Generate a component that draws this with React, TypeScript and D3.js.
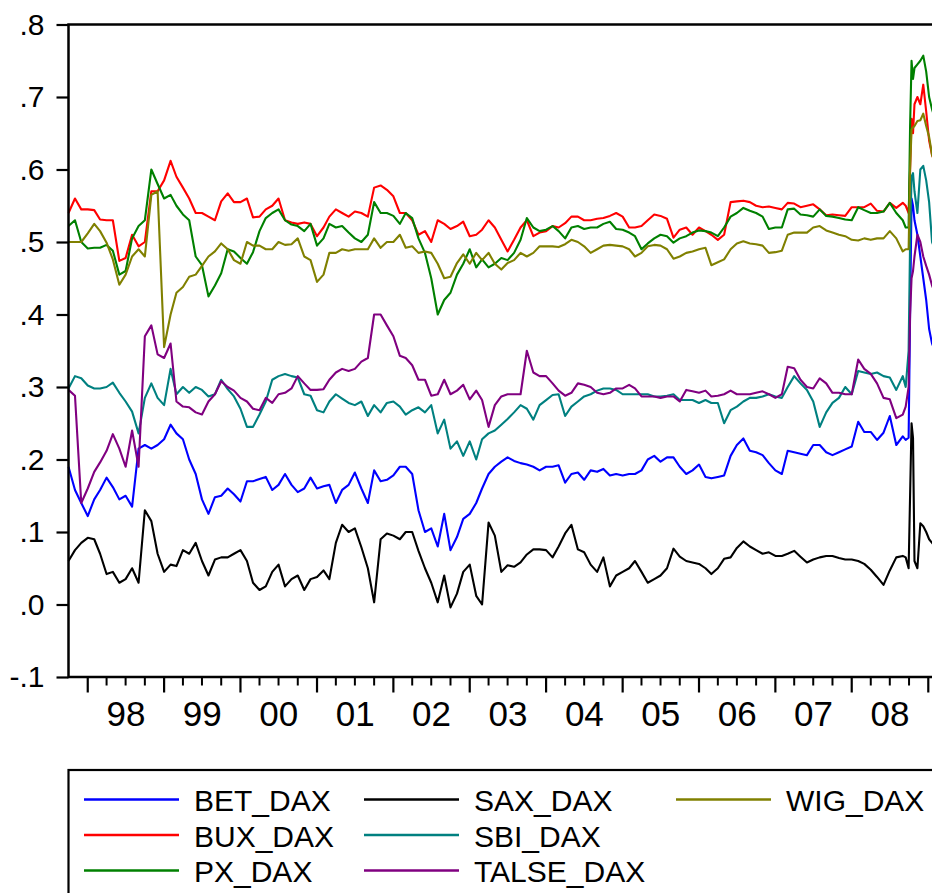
import * as React from "react";
import * as d3 from "d3";

const parseDay = d3.timeParse("%Y-%m-%d");

// monthly readings Oct 1997 .. Sep 2008, then the autumn 2008 turmoil in finer steps
const monthDates = d3.timeMonth.range(new Date(1997, 9, 1), new Date(2008, 9, 1));
const tailDays = [
  "2008-09-15", "2008-09-29", "2008-10-06", "2008-10-13", "2008-10-20", "2008-10-27",
  "2008-11-10", "2008-11-24", "2008-12-08", "2008-12-22", "2009-01-05", "2009-01-19", "2009-02-02",
];
const dates = monthDates.concat(tailDays.map((s) => parseDay(s) as Date));

const yTicks = [0.8, 0.7, 0.6, 0.5, 0.4, 0.3, 0.2, 0.1, 0.0, -0.1];
const yearLabels = ["98", "99", "00", "01", "02", "03", "04", "05", "06", "07", "08"];

const BET_DAX = [
  0.19, 0.158, 0.14, 0.122, 0.145, 0.158, 0.175, 0.162, 0.145, 0.15,
  0.135, 0.215, 0.22, 0.215, 0.22, 0.228, 0.248, 0.236, 0.228, 0.20,
  0.18, 0.145, 0.125, 0.148, 0.15, 0.16, 0.152, 0.142, 0.17, 0.17,
  0.173, 0.176, 0.158, 0.165, 0.18, 0.165, 0.155, 0.16, 0.175, 0.16,
  0.163, 0.165, 0.14, 0.158, 0.165, 0.182, 0.16, 0.14, 0.185, 0.17,
  0.172, 0.178, 0.19, 0.19, 0.18, 0.13, 0.10, 0.105, 0.08, 0.125,
  0.075, 0.093, 0.118, 0.125, 0.14, 0.16, 0.18, 0.19, 0.197, 0.203,
  0.198, 0.195, 0.193, 0.19, 0.185, 0.19, 0.19, 0.192, 0.168, 0.18,
  0.182, 0.172, 0.185, 0.183, 0.187, 0.178, 0.18, 0.178, 0.18, 0.18,
  0.185, 0.20, 0.205, 0.197, 0.203, 0.203, 0.19, 0.18, 0.185, 0.193,
  0.176, 0.174, 0.176, 0.178, 0.205, 0.22, 0.229, 0.212, 0.21, 0.206,
  0.195, 0.185, 0.18, 0.212, 0.21, 0.208, 0.206, 0.22, 0.22, 0.21,
  0.206, 0.21, 0.214, 0.218, 0.252, 0.238, 0.238, 0.227, 0.237, 0.26,
  0.22, 0.232,
  0.227, 0.23, 0.40, 0.56, 0.55, 0.53, 0.51, 0.48, 0.45, 0.42, 0.38, 0.36, 0.35,
];

const BUX_DAX = [
  0.54, 0.56, 0.545, 0.545, 0.544, 0.531, 0.53, 0.53, 0.474, 0.478,
  0.51, 0.494, 0.50, 0.57, 0.57, 0.585, 0.612, 0.59, 0.575, 0.56,
  0.54, 0.54, 0.535, 0.53, 0.556, 0.567, 0.555, 0.555, 0.56, 0.534,
  0.535, 0.545, 0.55, 0.56, 0.53, 0.527, 0.525, 0.527, 0.525, 0.508,
  0.52, 0.535, 0.545, 0.54, 0.535, 0.542, 0.54, 0.535, 0.575, 0.578,
  0.572, 0.563, 0.54, 0.54, 0.53, 0.51, 0.515, 0.50, 0.53, 0.525,
  0.518, 0.522, 0.528, 0.508, 0.51, 0.517, 0.53, 0.52, 0.503, 0.487,
  0.503, 0.52, 0.53, 0.508, 0.513, 0.515, 0.522, 0.52, 0.526, 0.535,
  0.535, 0.53, 0.53, 0.532, 0.533, 0.536, 0.54, 0.535, 0.52, 0.52,
  0.522, 0.53, 0.538, 0.536, 0.532, 0.506, 0.517, 0.52, 0.51, 0.52,
  0.515, 0.51, 0.503, 0.51, 0.555, 0.556, 0.557, 0.555, 0.55, 0.548,
  0.549, 0.547, 0.545, 0.554, 0.553, 0.548, 0.55, 0.552, 0.545, 0.537,
  0.538, 0.537, 0.536, 0.548, 0.548, 0.548, 0.553, 0.543, 0.542, 0.554,
  0.547, 0.554,
  0.55, 0.54, 0.60, 0.67, 0.65, 0.69, 0.70, 0.69, 0.717, 0.68, 0.64, 0.62, 0.61,
];

const PX_DAX = [
  0.522, 0.53, 0.50, 0.491, 0.492, 0.492, 0.496, 0.488, 0.455, 0.46,
  0.505, 0.522, 0.53, 0.60, 0.58, 0.56, 0.565, 0.55, 0.538, 0.53,
  0.48, 0.468, 0.425, 0.44, 0.457, 0.49, 0.487, 0.478, 0.47, 0.486,
  0.515, 0.533, 0.54, 0.545, 0.53, 0.524, 0.522, 0.515, 0.525, 0.495,
  0.505, 0.525, 0.52, 0.522, 0.513, 0.505, 0.50, 0.51, 0.555, 0.54,
  0.54, 0.536, 0.525, 0.54, 0.533, 0.505, 0.485, 0.45, 0.40, 0.42,
  0.43, 0.455, 0.47, 0.49, 0.465, 0.476, 0.465, 0.47, 0.478, 0.475,
  0.485, 0.503, 0.533, 0.52, 0.515, 0.517, 0.522, 0.515, 0.505, 0.52,
  0.522, 0.518, 0.52, 0.52, 0.525, 0.528, 0.518, 0.517, 0.513, 0.508,
  0.49, 0.498, 0.505, 0.51, 0.508, 0.499, 0.505, 0.508, 0.513, 0.516,
  0.515, 0.513, 0.508, 0.52, 0.535, 0.54, 0.547, 0.543, 0.54, 0.535,
  0.518, 0.52, 0.52, 0.545, 0.546, 0.538, 0.537, 0.535, 0.545, 0.536,
  0.535, 0.533, 0.531, 0.53, 0.548, 0.544, 0.54, 0.54, 0.542, 0.554,
  0.54, 0.53,
  0.52, 0.52, 0.66, 0.75, 0.725, 0.74, 0.745, 0.75, 0.757, 0.735, 0.70, 0.683, 0.67,
];

const SAX_DAX = [
  0.06, 0.075, 0.085, 0.092, 0.09, 0.07, 0.042, 0.045, 0.03, 0.035,
  0.05, 0.03, 0.13, 0.115, 0.07, 0.045, 0.055, 0.053, 0.075, 0.07,
  0.085, 0.06, 0.04, 0.062, 0.065, 0.065, 0.07, 0.075, 0.06, 0.03,
  0.02, 0.025, 0.045, 0.055, 0.025, 0.035, 0.04, 0.02, 0.035, 0.038,
  0.047, 0.035, 0.085, 0.11, 0.10, 0.105, 0.079, 0.05, 0.003, 0.09,
  0.098, 0.095, 0.09, 0.10, 0.10, 0.074, 0.05, 0.03, 0.003, 0.04,
  -0.004, 0.015, 0.045, 0.055, 0.012, 0.0, 0.113, 0.095, 0.045, 0.054,
  0.052, 0.058, 0.069, 0.076, 0.076, 0.075, 0.065, 0.08, 0.098, 0.11,
  0.076, 0.072, 0.055, 0.045, 0.065, 0.025, 0.04, 0.045, 0.05, 0.06,
  0.045, 0.03, 0.035, 0.04, 0.05, 0.077, 0.066, 0.06, 0.058, 0.056,
  0.05, 0.042, 0.05, 0.063, 0.065, 0.078, 0.087, 0.08, 0.075, 0.07,
  0.072, 0.067, 0.067, 0.07, 0.074, 0.066, 0.058, 0.062, 0.065, 0.067,
  0.067, 0.064, 0.062, 0.062, 0.06, 0.056, 0.048, 0.038, 0.027, 0.047,
  0.065, 0.067,
  0.065, 0.05, 0.15, 0.25, 0.23, 0.06, 0.05, 0.112, 0.108, 0.10, 0.09, 0.085, 0.08,
];

const SBI_DAX = [
  0.298, 0.315, 0.312, 0.302, 0.298, 0.298, 0.30, 0.306, 0.292, 0.28,
  0.266, 0.236, 0.285, 0.305, 0.285, 0.275, 0.325, 0.29, 0.30, 0.292,
  0.30, 0.296, 0.287, 0.29, 0.31, 0.297, 0.287, 0.27, 0.245, 0.245,
  0.262, 0.28, 0.31, 0.315, 0.318, 0.315, 0.313, 0.29, 0.288, 0.268,
  0.265, 0.28, 0.29, 0.284, 0.278, 0.275, 0.28, 0.26, 0.275, 0.265,
  0.278, 0.28, 0.273, 0.262, 0.268, 0.272, 0.265, 0.275, 0.236, 0.255,
  0.215, 0.225, 0.205, 0.225, 0.20, 0.228, 0.236, 0.24, 0.248, 0.256,
  0.265, 0.275, 0.27, 0.255, 0.275, 0.282, 0.289, 0.29, 0.26, 0.273,
  0.28, 0.287, 0.29, 0.295, 0.298, 0.298, 0.296, 0.29, 0.29, 0.29,
  0.29, 0.29, 0.287, 0.287, 0.288, 0.29, 0.282, 0.282, 0.282, 0.278,
  0.282, 0.278, 0.278, 0.25, 0.268, 0.273, 0.28, 0.285, 0.285, 0.287,
  0.29, 0.287, 0.285, 0.30, 0.315, 0.305, 0.296, 0.28, 0.245, 0.265,
  0.278, 0.285, 0.30, 0.29, 0.322, 0.32, 0.318, 0.32, 0.315, 0.313,
  0.296, 0.315,
  0.30, 0.35, 0.50, 0.59, 0.595, 0.57, 0.54, 0.60, 0.605, 0.585, 0.555, 0.50, 0.49,
];

const TALSE_DAX = [
  0.296, 0.288, 0.14, 0.16, 0.183, 0.196, 0.212, 0.235, 0.215, 0.19,
  0.24, 0.19, 0.37, 0.385, 0.345, 0.34, 0.36, 0.28, 0.273, 0.272,
  0.265, 0.262, 0.28, 0.29, 0.308, 0.30, 0.295, 0.285, 0.28, 0.27,
  0.268, 0.285, 0.278, 0.29, 0.292, 0.298, 0.315, 0.305, 0.296, 0.296,
  0.297, 0.31, 0.32, 0.325, 0.322, 0.325, 0.335, 0.34, 0.40, 0.40,
  0.385, 0.37, 0.343, 0.34, 0.33, 0.31, 0.31, 0.288, 0.29, 0.31,
  0.29, 0.295, 0.303, 0.283, 0.295, 0.282, 0.245, 0.275, 0.287, 0.29,
  0.29, 0.29, 0.35, 0.32, 0.315, 0.315, 0.305, 0.295, 0.288, 0.292,
  0.305, 0.303, 0.30, 0.292, 0.29, 0.292, 0.298, 0.298, 0.303, 0.298,
  0.287, 0.287, 0.287, 0.285, 0.287, 0.287, 0.28, 0.296, 0.294, 0.292,
  0.295, 0.287, 0.288, 0.29, 0.295, 0.29, 0.29, 0.29, 0.292, 0.294,
  0.29, 0.285, 0.29, 0.328, 0.326, 0.31, 0.30, 0.298, 0.312, 0.305,
  0.292, 0.292, 0.29, 0.29, 0.338, 0.325, 0.318, 0.305, 0.285, 0.283,
  0.257, 0.262,
  0.273, 0.30, 0.40, 0.45, 0.46, 0.48, 0.51, 0.50, 0.48, 0.467, 0.455, 0.44, 0.43,
];

const WIG_DAX = [
  0.50, 0.50, 0.50, 0.512, 0.525, 0.515, 0.499, 0.476, 0.441, 0.455,
  0.48, 0.49, 0.48, 0.565, 0.57, 0.355, 0.40, 0.43, 0.438, 0.452,
  0.455, 0.467, 0.48, 0.487, 0.498, 0.49, 0.475, 0.47, 0.50, 0.495,
  0.495, 0.49, 0.49, 0.50, 0.496, 0.497, 0.505, 0.48, 0.475, 0.445,
  0.455, 0.485, 0.485, 0.49, 0.488, 0.49, 0.49, 0.49, 0.505, 0.492,
  0.50, 0.50, 0.51, 0.492, 0.494, 0.485, 0.487, 0.485, 0.47, 0.45,
  0.452, 0.471, 0.483, 0.47, 0.485, 0.475, 0.485, 0.47, 0.462, 0.471,
  0.475, 0.485, 0.48, 0.485, 0.494, 0.494, 0.494, 0.493, 0.497, 0.503,
  0.50, 0.494, 0.485, 0.49, 0.495, 0.496, 0.495, 0.494, 0.49, 0.48,
  0.485, 0.494, 0.496, 0.495, 0.49, 0.477, 0.48, 0.485, 0.487, 0.49,
  0.492, 0.468, 0.472, 0.476, 0.49, 0.498, 0.501, 0.498, 0.497, 0.495,
  0.485, 0.486, 0.488, 0.51, 0.513, 0.513, 0.513, 0.52, 0.522, 0.516,
  0.513, 0.51, 0.508, 0.503, 0.502, 0.505, 0.503, 0.505, 0.505, 0.515,
  0.505, 0.487,
  0.49, 0.49, 0.60, 0.655, 0.658, 0.66, 0.667, 0.668, 0.677, 0.66, 0.645, 0.62, 0.61,
];

const seriesNames = ["BET_DAX", "BUX_DAX", "PX_DAX", "SAX_DAX", "SBI_DAX", "TALSE_DAX", "WIG_DAX"];
const seriesValues = [BET_DAX, BUX_DAX, PX_DAX, SAX_DAX, SBI_DAX, TALSE_DAX, WIG_DAX];
const seriesColors = ["#0000ff", "#ff0000", "#008000", "#000000", "#008080", "#800080", "#808000"];

const FONT = "'Liberation Sans', Arial, Helvetica, sans-serif";

function drawChart(svgRef: React.RefObject<SVGSVGElement>) {
  const width = 932;
  const height = 893;
  const left = 68.5;
  const right = 937.7;
  const top = 24.5;
  const bottom = 677;

  const x = d3
    .scaleTime()
    .domain([new Date(1997, 9, 1), new Date(2009, 1, 15)])
    .range([left, right]);
  const y = d3.scaleLinear().domain([-0.1, 0.8]).range([bottom, top]);

  const svg = d3.select(svgRef.current).attr("width", width).attr("height", height);
  svg.selectAll("*").remove();

  svg.append("rect").attr("width", width).attr("height", height).attr("fill", "#fff");

  // series
  const line = d3
    .line<number>()
    .x((_d, i) => x(dates[i]))
    .y((d) => y(d));

  seriesValues.forEach((vals, k) => {
    svg
      .append("path")
      .datum(vals)
      .attr("d", line)
      .attr("fill", "none")
      .attr("stroke", seriesColors[k])
      .attr("stroke-width", 2.1)
      .attr("stroke-linejoin", "round");
  });

  // frame
  svg
    .append("rect")
    .attr("x", left)
    .attr("y", top)
    .attr("width", right - left)
    .attr("height", bottom - top)
    .attr("fill", "none")
    .attr("stroke", "#000")
    .attr("stroke-width", 2.5);

  // y axis, eviews style labels ".5", "-.1"
  const fmt = (v: number) => d3.format(".1f")(v).replace("\u2212", "-").replace("0.", ".");
  const yAxis = svg
    .append("g")
    .attr("transform", `translate(${left},0)`)
    .call(d3.axisLeft(y).tickValues(yTicks).tickSize(12).tickSizeOuter(0).tickPadding(12).tickFormat((d) => fmt(+d)));
  yAxis.select(".domain").remove();
  yAxis.selectAll("line").attr("stroke-width", 2.2);
  yAxis.selectAll("text").attr("font-family", FONT).attr("font-size", 30).attr("fill", "#000");

  // x axis: yearly long ticks, quarterly short ticks
  const years = d3.timeYear.range(new Date(1998, 0, 1), new Date(2009, 1, 1));
  const quarters = d3
    .timeMonth.every(3)!
    .range(new Date(1997, 11, 1), new Date(2009, 1, 1))
    .filter((d) => d.getMonth() !== 0);

  svg
    .append("g")
    .selectAll("line.major")
    .data(years)
    .enter()
    .append("line")
    .attr("x1", (d) => x(d))
    .attr("x2", (d) => x(d))
    .attr("y1", bottom)
    .attr("y2", bottom + 15.5)
    .attr("stroke", "#000")
    .attr("stroke-width", 2.2);

  svg
    .append("g")
    .selectAll("line.minor")
    .data(quarters)
    .enter()
    .append("line")
    .attr("x1", (d) => x(d))
    .attr("x2", (d) => x(d))
    .attr("y1", bottom)
    .attr("y2", bottom + 8.5)
    .attr("stroke", "#000")
    .attr("stroke-width", 2);

  svg
    .append("g")
    .selectAll("text")
    .data(yearLabels)
    .enter()
    .append("text")
    .text((d) => d)
    .attr("x", (_d, i) => (x(years[i]) + x(years[i + 1])) / 2)
    .attr("y", 726)
    .attr("text-anchor", "middle")
    .attr("font-family", FONT)
    .attr("font-size", 35)
    .attr("fill", "#000");

  // legend
  svg
    .append("rect")
    .attr("x", 68.5)
    .attr("y", 770)
    .attr("width", 900)
    .attr("height", 200)
    .attr("fill", "none")
    .attr("stroke", "#000")
    .attr("stroke-width", 2.2);

  const colX = [84, 364, 676];
  const rowY = [799.5, 835, 870.5];
  const legend = svg
    .append("g")
    .selectAll("g")
    .data(seriesNames)
    .enter()
    .append("g")
    .attr("transform", (_d, i) => `translate(${colX[Math.floor(i / 3)]},${rowY[i % 3]})`);

  legend
    .append("line")
    .attr("x1", 0)
    .attr("x2", 95)
    .attr("stroke", (_d, i) => seriesColors[i])
    .attr("stroke-width", 2.6);

  legend
    .append("text")
    .text((d) => d)
    .attr("x", 110)
    .attr("y", 11.5)
    .attr("font-family", FONT)
    .attr("font-size", 30)
    .attr("fill", "#000");
}

const App = () => {
  const svgRef = React.useRef<SVGSVGElement>(null);

  React.useEffect(() => {
    drawChart(svgRef);
  }, [svgRef]);

  return (
    <svg
      ref={svgRef}
      style={{ position: "absolute", left: 0, top: 0, display: "block" }}
    />
  );
};

export default App;
